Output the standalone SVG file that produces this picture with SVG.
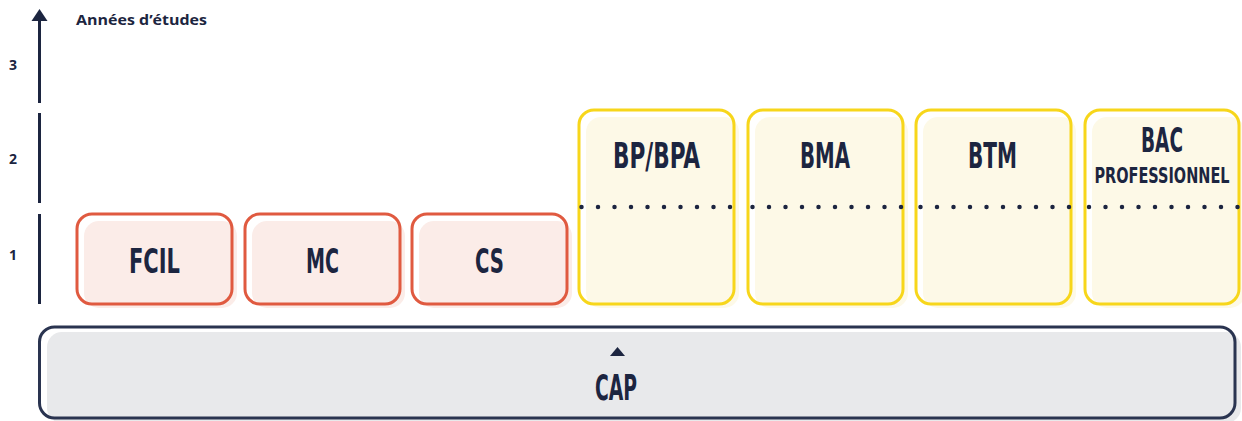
<svg xmlns="http://www.w3.org/2000/svg" width="1242" height="421" viewBox="0 0 1242 421">
<style>
.red{fill:none;stroke:#e05a40;stroke-width:3}
.redf{fill:#fbece8}
.yel{fill:none;stroke:#f7d61b;stroke-width:3}
.yelf{fill:#fdf9e7}
.lbl{font-family:"Liberation Sans Narrow","DejaVu Sans Condensed","Liberation Sans",sans-serif;font-weight:bold;fill:#1c2540;text-anchor:middle}
.ax{stroke:#1c2540;stroke-width:3}
.num{font-family:"Open Sans","Noto Sans",sans-serif;font-weight:bold;font-size:14px;fill:#1c2540;text-anchor:middle}
.dots{stroke:#1c2540;stroke-width:4.5;stroke-linecap:round;stroke-dasharray:0 16.5;fill:none}
</style>
<rect width="1242" height="421" fill="#ffffff"/>
<g id="axis">
<line class="ax" x1="39.5" y1="20" x2="39.5" y2="103"/>
<polygon points="39.5,9 47.5,21 31.5,21" fill="#1c2540"/>
<line class="ax" x1="39.5" y1="113" x2="39.5" y2="203"/>
<line class="ax" x1="39.5" y1="214" x2="39.5" y2="304"/>
<text x="76" y="25" font-family="'Open Sans','Noto Sans',sans-serif" font-weight="bold" font-size="14" fill="#1c2540" textLength="131" lengthAdjust="spacingAndGlyphs">Années d’études</text>
<text class="num" x="13" y="70">3</text>
<text class="num" x="13" y="164">2</text>
<text class="num" x="13" y="260">1</text>
</g>
<g id="node-fcil">
<rect class="redf" x="84" y="221" width="153" height="87" rx="15"/>
<rect class="red" x="77" y="214" width="155" height="90" rx="15"/>
<text class="lbl" x="154.5" y="273" font-size="34" textLength="51" lengthAdjust="spacingAndGlyphs">FCIL</text>
</g>
<g id="node-mc">
<rect class="redf" x="252" y="221" width="153" height="87" rx="15"/>
<rect class="red" x="245" y="214" width="155" height="90" rx="15"/>
<text class="lbl" x="322.5" y="273" font-size="34" textLength="33" lengthAdjust="spacingAndGlyphs">MC</text>
</g>
<g id="node-cs">
<rect class="redf" x="419" y="221" width="153" height="87" rx="15"/>
<rect class="red" x="412" y="214" width="155" height="90" rx="15"/>
<text class="lbl" x="489.5" y="273" font-size="34" textLength="29" lengthAdjust="spacingAndGlyphs">CS</text>
</g>
<g id="node-bp">
<rect class="yelf" x="586" y="117" width="153" height="191" rx="15"/>
<rect class="yel" x="579" y="110" width="155" height="194" rx="15"/>
<line class="dots" x1="581.5" y1="207" x2="734" y2="207"/>
<text class="lbl" x="656.5" y="168" font-size="35" textLength="87" lengthAdjust="spacingAndGlyphs">BP/BPA</text>
</g>
<g id="node-bma">
<rect class="yelf" x="755" y="117" width="153" height="191" rx="15"/>
<rect class="yel" x="748" y="110" width="155" height="194" rx="15"/>
<line class="dots" x1="752.5" y1="207" x2="903" y2="207"/>
<text class="lbl" x="825" y="168" font-size="35" textLength="50" lengthAdjust="spacingAndGlyphs">BMA</text>
</g>
<g id="node-btm">
<rect class="yelf" x="923" y="117" width="153" height="191" rx="15"/>
<rect class="yel" x="916" y="110" width="155" height="194" rx="15"/>
<line class="dots" x1="920.5" y1="207" x2="1071" y2="207"/>
<text class="lbl" x="992.5" y="168" font-size="35" textLength="49" lengthAdjust="spacingAndGlyphs">BTM</text>
</g>
<g id="node-bac">
<rect class="yelf" x="1092" y="117" width="153" height="191" rx="15"/>
<rect class="yel" x="1085" y="110" width="154" height="194" rx="15"/>
<line class="dots" x1="1089" y1="207" x2="1240" y2="207"/>
<text class="lbl" x="1162" y="152" font-size="34" textLength="42" lengthAdjust="spacingAndGlyphs">BAC</text>
<text class="lbl" x="1162" y="183" font-size="22" textLength="135" lengthAdjust="spacingAndGlyphs">PROFESSIONNEL</text>
</g>
<g id="node-cap">
<rect x="47" y="332" width="1194" height="91" rx="15" fill="#e8e9eb"/>
<rect x="39.5" y="327" width="1195.5" height="91" rx="15" fill="none" stroke="#2a3450" stroke-width="3"/>
<polygon points="610,356 625,356 617.5,347" fill="#1c2540"/>
<text class="lbl" x="616" y="400" font-size="35" textLength="42" lengthAdjust="spacingAndGlyphs">CAP</text>
</g>
<g id="connectors"></g>
</svg>
